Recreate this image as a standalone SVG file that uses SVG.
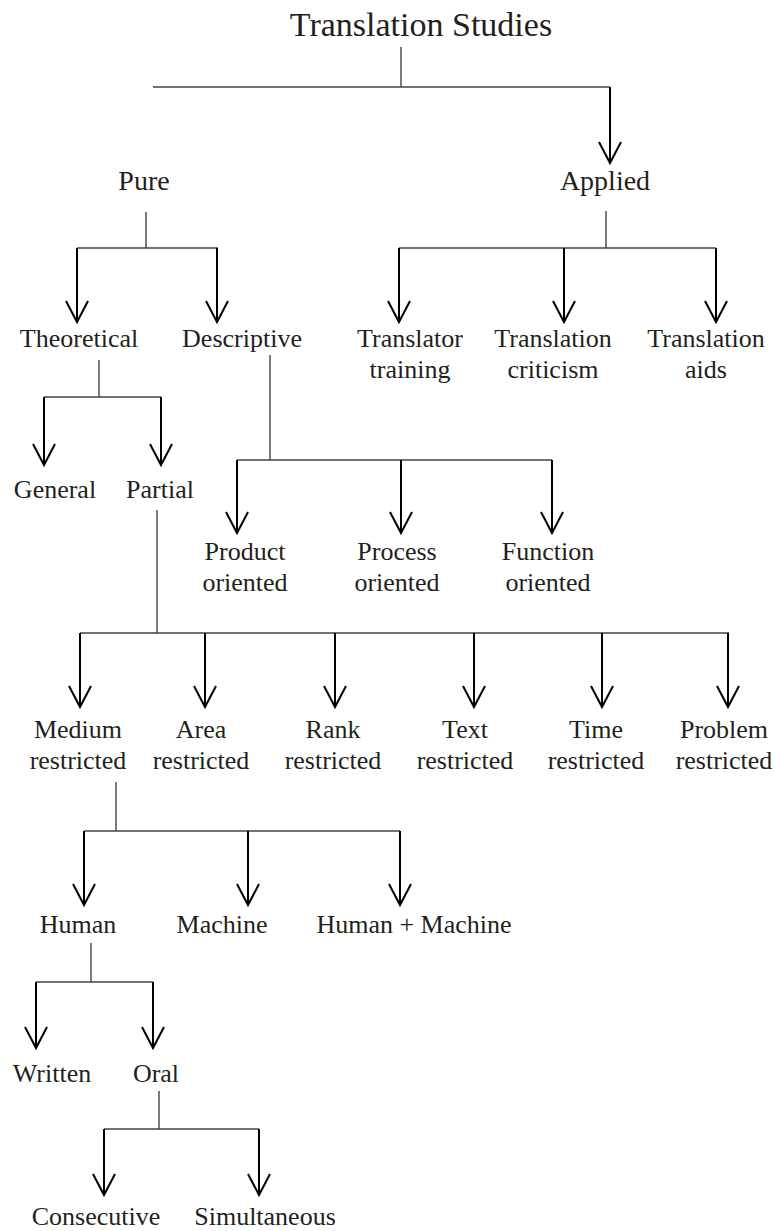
<svg xmlns="http://www.w3.org/2000/svg" width="775" height="1231" viewBox="0 0 775 1231">
<defs>
<style>
text{font-family:"Liberation Serif","Times New Roman",serif;fill:#231f20;text-anchor:middle;font-size:26px}
.title{font-size:34px}
.l1{font-size:28px}
.stem{stroke:#444;stroke-width:1.4;fill:none}
.arr{stroke:#000;stroke-width:2;fill:none;marker-end:url(#v)}
</style>
<marker id="v" markerUnits="userSpaceOnUse" orient="auto" refX="0" refY="0" markerWidth="30" markerHeight="30" overflow="visible">
<path d="M-21,-11 L0,0 L-21,11" fill="none" stroke="#000" stroke-width="2"/>
</marker>
</defs>
<rect width="775" height="1231" fill="#fff"/>
<g id="connectors">
<path class="stem" d="M401,47V87M153,87H610"/>
<path class="arr" d="M610,87V163"/>
<path class="stem" d="M146,212V248M77,248H218"/>
<path class="arr" d="M77,248V322"/><path class="arr" d="M217,248V322"/>
<path class="stem" d="M606,211V248M399,248H716"/>
<path class="arr" d="M399,248V322"/><path class="arr" d="M564,248V322"/><path class="arr" d="M716,248V322"/>
<path class="stem" d="M99,360V397M44,397H161"/>
<path class="arr" d="M44,397V465"/><path class="arr" d="M161,397V465"/>
<path class="stem" d="M270,355V460M237,460H552"/>
<path class="arr" d="M237,460V533"/><path class="arr" d="M401,460V533"/><path class="arr" d="M552,460V533"/>
<path class="stem" d="M157,510V633M80,633H729"/>
<path class="arr" d="M80,633V707"/><path class="arr" d="M205,633V707"/><path class="arr" d="M335,633V707"/><path class="arr" d="M474,633V707"/><path class="arr" d="M602,633V707"/><path class="arr" d="M728,633V707"/>
<path class="stem" d="M116,782V831M84,831H400"/>
<path class="arr" d="M84,831V905"/><path class="arr" d="M248,831V905"/><path class="arr" d="M400,831V905"/>
<path class="stem" d="M91,943V982M36,982H153"/>
<path class="arr" d="M36,982V1048"/><path class="arr" d="M153,982V1048"/>
<path class="stem" d="M159,1091V1129M104,1129H259"/>
<path class="arr" d="M104,1129V1195"/><path class="arr" d="M259,1129V1195"/>
</g>
<g id="n-ts"><text class="title" x="421" y="36">Translation Studies</text></g>
<g id="n-pure"><text class="l1" x="144" y="190">Pure</text></g>
<g id="n-applied"><text class="l1" x="605" y="190">Applied</text></g>
<g id="n-theoretical"><text x="79" y="347">Theoretical</text></g>
<g id="n-descriptive"><text x="242" y="347">Descriptive</text></g>
<g id="n-training"><text x="410" y="347">Translator</text><text x="410" y="378">training</text></g>
<g id="n-criticism"><text x="553" y="347">Translation</text><text x="553" y="378">criticism</text></g>
<g id="n-aids"><text x="706" y="347">Translation</text><text x="706" y="378">aids</text></g>
<g id="n-general"><text x="55" y="498">General</text></g>
<g id="n-partial"><text x="160" y="498">Partial</text></g>
<g id="n-product"><text x="245" y="560">Product</text><text x="245" y="591">oriented</text></g>
<g id="n-process"><text x="397" y="560">Process</text><text x="397" y="591">oriented</text></g>
<g id="n-function"><text x="548" y="560">Function</text><text x="548" y="591">oriented</text></g>
<g id="n-medium"><text x="78" y="738">Medium</text><text x="78" y="769">restricted</text></g>
<g id="n-area"><text x="201" y="738">Area</text><text x="201" y="769">restricted</text></g>
<g id="n-rank"><text x="333" y="738">Rank</text><text x="333" y="769">restricted</text></g>
<g id="n-text"><text x="465" y="738">Text</text><text x="465" y="769">restricted</text></g>
<g id="n-time"><text x="596" y="738">Time</text><text x="596" y="769">restricted</text></g>
<g id="n-problem"><text x="724" y="738">Problem</text><text x="724" y="769">restricted</text></g>
<g id="n-human"><text x="78" y="933">Human</text></g>
<g id="n-machine"><text x="222" y="933">Machine</text></g>
<g id="n-hm"><text x="414" y="933">Human + Machine</text></g>
<g id="n-written"><text x="52" y="1082">Written</text></g>
<g id="n-oral"><text x="156" y="1082">Oral</text></g>
<g id="n-consecutive"><text x="96" y="1225">Consecutive</text></g>
<g id="n-simultaneous"><text x="265" y="1225">Simultaneous</text></g>
</svg>
